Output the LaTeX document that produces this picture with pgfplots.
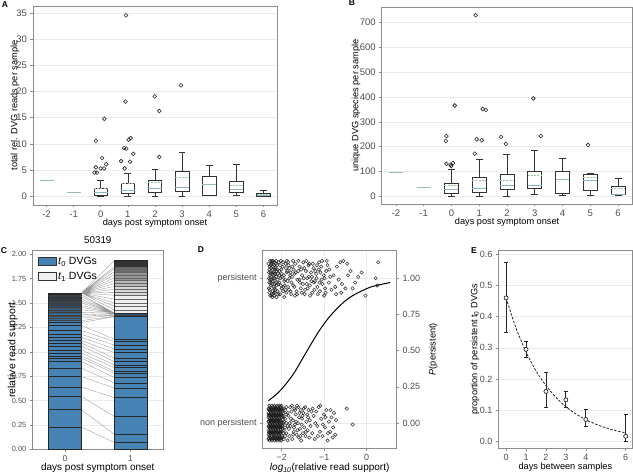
\documentclass[border=0pt]{standalone}
\usepackage{fontspec}
\setmainfont{Liberation Sans}
\usepackage{pgfplots}
\pgfplotsset{compat=1.18}
\usepgfplotslibrary{statistics}
\definecolor{steel}{HTML}{4682B4}
\definecolor{medc}{HTML}{86B4C8}
\definecolor{meanc}{HTML}{A0C49C}
\definecolor{framec}{HTML}{8C8C8C}
\definecolor{gridc}{HTML}{EBEBEB}
\definecolor{tickc}{HTML}{4D4D4D}
\definecolor{ca}{RGB}{62,112,155}
\definecolor{cb}{RGB}{55,92,122}
\definecolor{cc}{RGB}{50,72,90}
\definecolor{cd}{RGB}{46,56,64}
\definecolor{ce}{RGB}{40,40,40}
\definecolor{da}{RGB}{45,85,120}
\definecolor{ga}{RGB}{240,240,240}
\definecolor{gb}{RGB}{215,215,215}
\definecolor{gc}{RGB}{185,185,185}
\definecolor{gd}{RGB}{150,150,150}
\definecolor{ge}{RGB}{105,105,105}
\definecolor{gf}{RGB}{50,50,50}
\pgfplotsset{
 gg/.style={
  scale only axis, anchor=south west,
  axis line style={framec, line width=0.7pt},
  tick align=outside, major tick length=2.5pt,
  tick style={framec, line width=0.6pt},
  xtick pos=left, ytick pos=left,
  ymajorgrids, grid style={gridc, line width=0.6pt},
  /pgf/number format/assume math mode=true,
  tick label style={text=tickc, font=\fontsize{9.5}{10}\selectfont},
  label style={font=\fontsize{9.2}{10}\selectfont},
 },
 meanl/.style={meanc, line width=0.7pt, dash pattern=on 2pt off 1.2pt},
 outl/.style={only marks, mark=o, mark size=1.9pt, black!85, mark options={line width=0.6pt}},
 bx/.style={black!80, line width=0.6pt, boxplot/draw direction=y, boxplot/box extend=0.5, boxplot/whisker extend=0.25},
}
\begin{document}
\begin{tikzpicture}
\path[use as bounding box] (0,0) rectangle (633pt,474pt);
% ---------------- A ----------------
\begin{axis}[gg, at={(33pt,269pt)}, width=244pt, height=199pt,
 xmin=-2.5, xmax=6.5, ymin=-1.7, ymax=36.4,
 xtick={-2,-1,0,1,2,3,4,5,6}, xticklabels={-2,-1,0,1,2,3,4,5,6},
 ytick={0,5,10,15,20,25,30,35},
 xlabel={days post symptom onset}, ylabel={total rel. DVG reads per sample},
 xlabel style={at={(axis description cs:0.5,-0.092)}, anchor=center},
 ylabel style={at={(axis description cs:-0.074,0.5)}, anchor=center},
 boxplot/draw direction=y,
 boxplot/every median/.style={draw=medc, line width=0.8pt}]
\addplot[medc, line width=0.7pt] coordinates {(-2.25,3.0) (-1.75,3.0)};
\addplot[meanl] coordinates {(-2.25,3.0) (-1.75,3.0)};
\addplot[medc, line width=0.7pt] coordinates {(-1.25,0.75) (-0.75,0.75)};
\addplot[meanl] coordinates {(-1.25,0.75) (-0.75,0.75)};
\addplot[bx, boxplot prepared={draw position=0, lower whisker=0.05, lower quartile=0.25, median=0.75, upper quartile=1.5, upper whisker=3.1}] coordinates {};
\addplot[bx, boxplot prepared={draw position=1, lower whisker=0.05, lower quartile=0.6, median=1.0, upper quartile=2.5, upper whisker=4.3}] coordinates {};
\addplot[bx, boxplot prepared={draw position=2, lower whisker=0, lower quartile=0.7, median=1.55, upper quartile=3.05, upper whisker=5.2}] coordinates {};
\addplot[bx, boxplot prepared={draw position=3, lower whisker=0.05, lower quartile=0.9, median=1.7, upper quartile=4.8, upper whisker=8.3}] coordinates {};
\addplot[bx, boxplot prepared={draw position=4, lower whisker=0.2, lower quartile=0.25, median=2.2, upper quartile=3.7, upper whisker=5.9}] coordinates {};
\addplot[bx, boxplot prepared={draw position=5, lower whisker=0.2, lower quartile=0.8, median=1.33, upper quartile=2.9, upper whisker=6.0}] coordinates {};
\addplot[bx, boxplot prepared={draw position=6, lower whisker=0, lower quartile=0.02, median=0.1, upper quartile=0.63, upper whisker=1.07}] coordinates {};
\addplot[meanl] coordinates {(-0.25,1.55) (0.25,1.55)};
\addplot[meanl] coordinates {(0.75,2.45) (1.25,2.45)};
\addplot[meanl] coordinates {(1.75,2.7) (2.25,2.7)};
\addplot[meanl] coordinates {(2.75,3.5) (3.25,3.5)};
\addplot[meanl] coordinates {(3.75,2.25) (4.25,2.25)};
\addplot[meanl] coordinates {(4.75,2.15) (5.25,2.15)};
\addplot[meanl] coordinates {(5.75,0.37) (6.25,0.37)};
\addplot[outl] coordinates {(-0.18,10.6) (0.13,14.8) (0.05,7.3) (0.2,6.1) (-0.18,5.5) (0.0,5.3) (0.12,5.3) (-0.23,4.5) (-0.14,4.5)
 (0.93,34.6) (0.91,18.1) (0.86,9.2) (0.94,9.1) (1.03,10.8) (1.1,11.1) (1.2,8.1) (0.75,6.7) (1.08,6.6) (0.88,5.3)
 (1.99,19.1) (2.16,16.3) (2.16,7.5) (2.96,21.2)};
\end{axis}
% ---------------- B ----------------
\begin{axis}[gg, at={(381.7pt,270pt)}, width=250.8pt, height=196.7pt,
 xmin=-2.51, xmax=6.52, ymin=-31, ymax=762,
 xtick={-2,-1,0,1,2,3,4,5,6}, xticklabels={-2,-1,0,1,2,3,4,5,6},
 ytick={0,100,200,300,400,500,600,700},
 xlabel={days post symptom onset}, ylabel={unique DVG species per sample},
 xlabel style={at={(axis description cs:0.5,-0.094)}, anchor=center},
 ylabel style={at={(axis description cs:-0.102,0.5)}, anchor=center},
 boxplot/draw direction=y,
 boxplot/every median/.style={draw=medc, line width=0.8pt}]
\addplot[medc, line width=0.7pt] coordinates {(-2.25,95) (-1.75,95)};
\addplot[meanl] coordinates {(-2.25,95) (-1.75,95)};
\addplot[medc, line width=0.7pt] coordinates {(-1.25,35) (-0.75,35)};
\addplot[meanl] coordinates {(-1.25,35) (-0.75,35)};
\addplot[bx, boxplot prepared={draw position=0, lower whisker=1, lower quartile=12, median=26, upper quartile=52, upper whisker=109}] coordinates {};
\addplot[bx, boxplot prepared={draw position=1, lower whisker=1, lower quartile=15, median=31, upper quartile=75, upper whisker=149}] coordinates {};
\addplot[bx, boxplot prepared={draw position=2, lower whisker=0, lower quartile=30, median=44, upper quartile=87, upper whisker=171}] coordinates {};
\addplot[bx, boxplot prepared={draw position=3, lower whisker=8, lower quartile=32, median=44, upper quartile=99, upper whisker=185}] coordinates {};
\addplot[bx, boxplot prepared={draw position=4, lower whisker=5, lower quartile=13, median=69, upper quartile=99, upper whisker=152}] coordinates {};
\addplot[bx, boxplot prepared={draw position=5, lower whisker=5, lower quartile=23, median=65, upper quartile=89, upper whisker=93}] coordinates {};
\addplot[bx, boxplot prepared={draw position=6, lower whisker=5, lower quartile=7, median=9, upper quartile=39, upper whisker=71}] coordinates {};
\addplot[meanl] coordinates {(-0.25,44) (0.25,44)};
\addplot[meanl] coordinates {(0.75,65) (1.25,65)};
\addplot[meanl] coordinates {(1.75,66) (2.25,66)};
\addplot[meanl] coordinates {(2.75,83) (3.25,83)};
\addplot[meanl] coordinates {(3.75,68) (4.25,68)};
\addplot[meanl] coordinates {(4.75,75) (5.25,75)};
\addplot[meanl] coordinates {(5.75,31) (6.25,31)};
\addplot[outl] coordinates {(0.12,366) (-0.18,243) (-0.2,223) (-0.18,131) (-0.03,127) (0.06,134) (-0.01,122)
 (0.87,730) (1.13,352) (1.24,348) (0.91,230) (1.09,226) (0.84,172)
 (1.79,239) (1.96,211) (2.95,395) (3.22,243) (4.92,207)};
\end{axis}
% ---------------- C ----------------
\begin{axis}[gg, at={(32.3pt,24.7pt)}, width=131pt, height=198.6pt,
 xmin=-0.5, xmax=1.5, ymin=0, ymax=2.037,
 xtick={0,1}, ytick={0,0.25,0.5,0.75,1,1.25,1.5,1.75,2},
 yticklabels={0.00,0.25,0.50,0.75,1.00,1.25,1.50,1.75,2.00},
 tick label style={font=\fontsize{7.4}{8}\selectfont},
 xticklabel style={font=\fontsize{8.5}{9}\selectfont},
 xlabel={days post symptom onset}, ylabel={relative read support},
 xlabel style={font=\fontsize{10}{11}\selectfont, at={(axis description cs:0.5,-0.096)}, anchor=center},
 ylabel style={font=\fontsize{10.5}{11}\selectfont, at={(axis description cs:-0.15,0.5)}, anchor=center},
 title={50319}, title style={font=\fontsize{9.8}{10}\selectfont, at={(axis description cs:0.5,1)}, anchor=south, inner sep=1pt},
 legend image code/.code={\draw[#1] (0pt,-3.5pt) rectangle (18pt,4pt);},
 legend style={draw=none, fill=none, at={(axis description cs:0.04,0.978)}, anchor=north west, font=\fontsize{10.5}{11}\selectfont, row sep=2pt, inner sep=0pt},
 legend cell align=left]
\addlegendimage{fill=steel, draw=black!80}
\addlegendentry{\textit{t}\textsubscript{0} DVGs}
\addlegendimage{fill=ga, draw=black!80}
\addlegendentry{\textit{t}\textsubscript{1} DVGs}
% bar 0 fills
\addplot[fill=steel, draw=none, forget plot] coordinates {(-0.25,0) (0.25,0) (0.25,1.33) (-0.25,1.33)} -- cycle;
\addplot[fill=ca, draw=none, forget plot] coordinates {(-0.25,1.33) (0.25,1.33) (0.25,1.39) (-0.25,1.39)} -- cycle;
\addplot[fill=cb, draw=none, forget plot] coordinates {(-0.25,1.39) (0.25,1.39) (0.25,1.45) (-0.25,1.45)} -- cycle;
\addplot[fill=cc, draw=none, forget plot] coordinates {(-0.25,1.45) (0.25,1.45) (0.25,1.51) (-0.25,1.51)} -- cycle;
\addplot[fill=cd, draw=none, forget plot] coordinates {(-0.25,1.51) (0.25,1.51) (0.25,1.566) (-0.25,1.566)} -- cycle;
\addplot[fill=ce, draw=none, forget plot] coordinates {(-0.25,1.566) (0.25,1.566) (0.25,1.603) (-0.25,1.603)} -- cycle;
% bar 1 fills
\addplot[fill=steel, draw=none, forget plot] coordinates {(0.75,0) (1.25,0) (1.25,1.36) (0.75,1.36)} -- cycle;
\addplot[fill=da, draw=none, forget plot] coordinates {(0.75,1.36) (1.25,1.36) (1.25,1.40) (0.75,1.40)} -- cycle;
\addplot[fill=ga, draw=none, forget plot] coordinates {(0.75,1.40) (1.25,1.40) (1.25,1.58) (0.75,1.58)} -- cycle;
\addplot[fill=gb, draw=none, forget plot] coordinates {(0.75,1.58) (1.25,1.58) (1.25,1.66) (0.75,1.66)} -- cycle;
\addplot[fill=gc, draw=none, forget plot] coordinates {(0.75,1.66) (1.25,1.66) (1.25,1.74) (0.75,1.74)} -- cycle;
\addplot[fill=gd, draw=none, forget plot] coordinates {(0.75,1.74) (1.25,1.74) (1.25,1.81) (0.75,1.81)} -- cycle;
\addplot[fill=ge, draw=none, forget plot] coordinates {(0.75,1.81) (1.25,1.81) (1.25,1.87) (0.75,1.87)} -- cycle;
\addplot[fill=gf, draw=none, forget plot] coordinates {(0.75,1.87) (1.25,1.87) (1.25,1.934) (0.75,1.934)} -- cycle;
% segment boundaries (lower, well-separated)
\addplot[black!85, line width=0.45pt, unbounded coords=jump, forget plot] coordinates {
(-0.25,0.229) (0.25,0.229) (0,nan) (-0.25,0.406) (0.25,0.406) (0,nan) (-0.25,0.542) (0.25,0.542) (0,nan)
(-0.25,0.639) (0.25,0.639) (0,nan) (-0.25,0.747) (0.25,0.747) (0,nan) (-0.25,0.833) (0.25,0.833) (0,nan)
(-0.25,0.90) (0.25,0.90) (0,nan) (-0.25,0.935) (0.25,0.935) (0,nan) (-0.25,0.959) (0.25,0.959) (0,nan)
(-0.25,0.986) (0.25,0.986) (0,nan) (-0.25,1.02) (0.25,1.02) (0,nan) (-0.25,1.06) (0.25,1.06) (0,nan)
(-0.25,1.09) (0.25,1.09) (0,nan) (-0.25,1.115) (0.25,1.115) (0,nan) (-0.25,1.15) (0.25,1.15) (0,nan)
(-0.25,1.18) (0.25,1.18) (0,nan) (-0.25,1.22) (0.25,1.22) (0,nan) (-0.25,1.27) (0.25,1.27) (0,nan)
(-0.25,1.30) (0.25,1.30) (0,nan)
(0.75,0.07) (1.25,0.07) (1,nan) (0.75,0.155) (1.25,0.155) (1,nan) (0.75,0.338) (1.25,0.338) (1,nan)
(0.75,0.53) (1.25,0.53) (1,nan) (0.75,0.628) (1.25,0.628) (1,nan) (0.75,0.68) (1.25,0.68) (1,nan)
(0.75,0.737) (1.25,0.737) (1,nan) (0.75,0.78) (1.25,0.78) (1,nan) (0.75,0.80) (1.25,0.80) (1,nan)
(0.75,0.839) (1.25,0.839) (1,nan) (0.75,0.867) (1.25,0.867) (1,nan) (0.75,0.90) (1.25,0.90) (1,nan)
(0.75,0.935) (1.25,0.935) (1,nan) (0.75,0.993) (1.25,0.993) (1,nan) (0.75,1.03) (1.25,1.03) (1,nan)
(0.75,1.07) (1.25,1.07) (1,nan) (0.75,1.105) (1.25,1.105) (1,nan) (0.75,1.13) (1.25,1.13) (1,nan)
(0.75,1.36) (1.25,1.36) (1,nan) (0.75,1.40) (1.25,1.40)};
% segment boundaries (upper, dense, thinner)
\addplot[black!75, line width=0.3pt, unbounded coords=jump, forget plot] coordinates {
(-0.25,1.32) (0.25,1.32) (0,nan) (-0.25,1.345) (0.25,1.345) (0,nan) (-0.25,1.365) (0.25,1.365) (0,nan)
(-0.25,1.38) (0.25,1.38) (0,nan) (-0.25,1.405) (0.25,1.405) (0,nan) (-0.25,1.43) (0.25,1.43) (0,nan)
(-0.25,1.455) (0.25,1.455) (0,nan) (-0.25,1.475) (0.25,1.475) (0,nan) (-0.25,1.50) (0.25,1.50) (0,nan)
(-0.25,1.52) (0.25,1.52) (0,nan) (-0.25,1.54) (0.25,1.54) (0,nan) (-0.25,1.566) (0.25,1.566) (0,nan)
(-0.25,1.585) (0.25,1.585) (0,nan)
(0.75,1.38) (1.25,1.38) (1,nan)};
\addplot[black!60, line width=0.3pt, unbounded coords=jump, forget plot] coordinates {
(0.75,1.43) (1.25,1.43) (1,nan) (0.75,1.47) (1.25,1.47) (1,nan) (0.75,1.50) (1.25,1.50) (1,nan)
(0.75,1.54) (1.25,1.54) (1,nan) (0.75,1.58) (1.25,1.58) (1,nan) (0.75,1.61) (1.25,1.61) (1,nan)
(0.75,1.64) (1.25,1.64) (1,nan) (0.75,1.67) (1.25,1.67) (1,nan) (0.75,1.70) (1.25,1.70) (1,nan)
(0.75,1.73) (1.25,1.73) (1,nan) (0.75,1.76) (1.25,1.76) (1,nan) (0.75,1.79) (1.25,1.79) (1,nan)
(0.75,1.82) (1.25,1.82) (1,nan) (0.75,1.85) (1.25,1.85) (1,nan) (0.75,1.87) (1.25,1.87)};
% bar outlines
\addplot[black!85, line width=0.55pt, forget plot] coordinates {(-0.25,0) (0.25,0) (0.25,1.603) (-0.25,1.603)} -- cycle;
\addplot[black!85, line width=0.55pt, forget plot] coordinates {(0.75,0) (1.25,0) (1.25,1.934) (0.75,1.934)} -- cycle;
% connecting lines
\addplot[black!40, line width=0.35pt, unbounded coords=jump, forget plot] coordinates {
(0.25,0.229) (0.75,0.07) (0.5,nan) (0.25,0.406) (0.75,0.155) (0.5,nan) (0.25,0.542) (0.75,0.338) (0.5,nan)
(0.25,0.639) (0.75,0.53) (0.5,nan) (0.25,0.747) (0.75,0.628) (0.5,nan) (0.25,0.833) (0.75,0.68) (0.5,nan)
(0.25,0.90) (0.75,0.737) (0.5,nan) (0.25,0.935) (0.75,0.78) (0.5,nan) (0.25,0.959) (0.75,0.80) (0.5,nan)
(0.25,0.986) (0.75,0.839) (0.5,nan) (0.25,1.02) (0.75,0.867) (0.5,nan) (0.25,1.06) (0.75,0.90) (0.5,nan)
(0.25,1.09) (0.75,0.935) (0.5,nan) (0.25,1.115) (0.75,0.993) (0.5,nan) (0.25,1.15) (0.75,1.03) (0.5,nan)
(0.25,1.18) (0.75,1.07) (0.5,nan) (0.25,1.22) (0.75,1.105) (0.5,nan) (0.25,1.27) (0.75,1.13) (0.5,nan)
(0.25,1.30) (0.75,1.36) (0.5,nan) (0.25,1.32) (0.75,1.365) (0.5,nan) (0.25,1.345) (0.75,1.375) (0.5,nan)
(0.25,1.365) (0.75,1.38) (0.5,nan) (0.25,1.38) (0.75,1.39) (0.5,nan) (0.25,1.405) (0.75,1.395) (0.5,nan)
(0.25,1.43) (0.75,1.40) (0.5,nan) (0.25,1.455) (0.75,1.40) (0.5,nan) (0.25,1.475) (0.75,1.40) (0.5,nan)
(0.25,1.50) (0.75,1.40) (0.5,nan) (0.25,1.52) (0.75,1.40) (0.5,nan) (0.25,1.54) (0.75,1.40) (0.5,nan)
(0.25,1.566) (0.75,1.40) (0.5,nan) (0.25,1.585) (0.75,1.40) (0.5,nan)
(0.25,1.603) (0.75,1.43) (0.5,nan) (0.25,1.603) (0.75,1.47) (0.5,nan) (0.25,1.603) (0.75,1.50) (0.5,nan)
(0.25,1.603) (0.75,1.54) (0.5,nan) (0.25,1.603) (0.75,1.58) (0.5,nan) (0.25,1.603) (0.75,1.61) (0.5,nan)
(0.25,1.603) (0.75,1.64) (0.5,nan) (0.25,1.603) (0.75,1.67) (0.5,nan) (0.25,1.603) (0.75,1.70) (0.5,nan)
(0.25,1.603) (0.75,1.73) (0.5,nan) (0.25,1.603) (0.75,1.76) (0.5,nan) (0.25,1.603) (0.75,1.79) (0.5,nan)
(0.25,1.603) (0.75,1.82) (0.5,nan) (0.25,1.603) (0.75,1.85) (0.5,nan) (0.25,1.603) (0.75,1.87) (0.5,nan)
(0.25,1.603) (0.75,1.934)};
\end{axis}
% ---------------- D ----------------
\begin{axis}[gg, at={(262.7pt,25.7pt)}, width=134pt, height=198.3pt,
 xmin=-2.447, xmax=0.706, ymin=-0.174, ymax=1.195,
 xtick={-2,-1,0}, xticklabels={−2,−1,0}, xmajorgrids,
 ytick={0,1}, yticklabels={non persistent,persistent},
 tick label style={font=\fontsize{9}{10}\selectfont},
 xlabel={\textit{log\textsubscript{10}}(relative read support)},
 xlabel style={font=\fontsize{10}{11}\selectfont, at={(axis description cs:0.5,-0.101)}, anchor=center}]
\addplot[only marks, mark=o, mark size=1.7pt, black!90, opacity=0.85, mark options={line width=0.55pt}] coordinates {
(-2.28,1.08) (-2.25,0.95) (-2.22,1.11) (-2.19,0.90) (-2.27,1.02) (-2.21,0.98) (-2.16,1.06) (-2.30,0.93) (-2.24,1.10) (-2.18,0.88)
(-2.13,1.01) (-2.26,0.97) (-2.20,1.04) (-2.15,0.92) (-2.29,1.06) (-2.11,1.09) (-2.23,0.89) (-2.17,1.00) (-2.08,0.96) (-2.27,1.12)
(-2.14,1.07) (-2.10,0.91) (-2.22,1.03) (-2.05,1.05) (-2.19,0.94) (-2.28,0.99) (-2.12,0.87) (-2.03,1.00) (-2.25,1.07) (-2.07,1.11)
(-2.16,0.96) (-2.00,0.93) (-2.21,0.91) (-2.09,1.03) (-1.98,1.08) (-2.30,1.00) (-2.13,1.12) (-2.04,0.89) (-1.95,1.02) (-2.18,1.09)
(-2.06,0.97) (-1.93,0.95) (-2.24,0.88) (-2.01,1.06) (-1.91,1.10) (-2.15,1.03) (-1.97,0.91) (-1.88,1.04) (-2.10,0.99) (-1.94,0.87)
(-1.86,0.98) (-2.02,1.12) (-1.90,1.07) (-1.83,0.92) (-1.99,1.01) (-1.85,1.11) (-1.80,1.02) (-1.96,0.94) (-1.78,0.89) (-1.87,1.05)
(-1.75,1.08) (-1.92,0.99) (-1.73,0.95) (-1.82,1.00) (-1.70,1.03) (-1.89,0.90) (-1.68,1.10) (-1.77,0.97) (-1.65,0.91) (-1.72,1.06)
(-1.63,0.99) (-1.84,1.09) (-1.61,1.05) (-1.69,0.88) (-1.79,1.04) (-2.29,0.90) (-2.26,1.04) (-2.23,0.96) (-2.20,1.08) (-2.17,0.93)
(-2.31,1.10) (-2.29,0.97) (-2.27,0.88) (-2.25,1.01) (-2.23,1.12) (-2.21,1.06) (-2.19,1.00) (-2.17,1.11) (-2.14,0.97) (-2.12,1.05)
(-2.30,1.04) (-2.28,0.92) (-2.26,1.09) (-2.24,0.99) (-2.22,0.87) (-2.20,1.12) (-2.18,1.03) (-2.16,0.90) (-2.14,1.10) (-2.12,0.95)
(-2.10,1.06) (-2.08,0.89) (-2.06,1.02) (-2.04,1.09) (-2.02,0.95) (-2.00,1.03) (-1.97,1.11) (-1.94,0.98) (-1.91,0.92) (-1.88,1.12)
(-1.85,0.94) (-1.82,1.07) (-1.79,0.91) (-1.76,1.01) (-1.73,1.12) (-1.70,0.94) (-1.67,1.04) (-1.64,0.89) (-1.61,1.12) (-1.58,0.99)
(-1.53,0.90) (-1.47,1.07) (-1.41,0.96) (-1.35,1.10) (-1.29,1.01) (-1.23,0.92) (-1.17,1.09) (-1.11,0.97) (-1.05,1.12) (-0.99,1.00)
(-1.58,1.08) (-1.55,0.93) (-1.52,1.02) (-1.49,1.11) (-1.57,0.97) (-1.46,0.89) (-1.43,1.05) (-1.50,0.96) (-1.40,1.00) (-1.37,1.09)
(-1.45,0.92) (-1.34,0.95) (-1.31,1.04) (-1.42,1.12) (-1.28,0.90) (-1.36,1.01) (-1.25,1.07) (-1.22,0.98) (-1.33,0.88) (-1.19,1.03)
(-1.27,1.10) (-1.16,0.94) (-1.13,1.06) (-1.24,0.97) (-1.10,0.91) (-1.18,1.00) (-1.07,1.08) (-1.04,0.96) (-1.12,1.11) (-1.01,1.02)
(-0.98,0.93) (-1.06,0.99) (-0.95,1.05) (-0.92,1.09) (-1.00,0.88) (-0.89,0.97) (-0.86,1.01) (-0.94,1.12) (-0.83,0.92) (-1.21,1.05)
(-1.39,0.93) (-1.54,1.06) (-1.48,1.00) (-1.30,0.98) (-1.09,1.04) (-0.97,0.90) (-1.15,0.89) (-0.88,1.06)
(-0.78,1.02) (-0.74,0.94) (-0.70,1.08) (-0.66,0.99) (-0.62,1.11) (-0.58,0.96) (-0.55,1.12) (-0.50,0.93) (-0.46,1.10) (-0.44,1.02)
(-0.38,1.05) (-0.33,0.93) (-0.27,0.97) (-0.20,1.01) (-0.12,1.04) (-0.03,0.88) (0.21,1.00) (0.25,0.95) (0.27,1.11) (-0.60,0.90) (-0.72,0.89)
(-2.31,-0.11) (-2.31,-0.08) (-2.31,-0.05) (-2.31,-0.02) (-2.31,0.01) (-2.31,0.04) (-2.31,0.07) (-2.31,0.10)
(-2.29,-0.12) (-2.29,-0.09) (-2.29,-0.06) (-2.29,-0.03) (-2.29,0.00) (-2.29,0.03) (-2.29,0.06) (-2.29,0.09) (-2.29,0.12)
(-2.27,-0.10) (-2.27,-0.07) (-2.27,-0.04) (-2.27,-0.01) (-2.27,0.02) (-2.27,0.05) (-2.27,0.08) (-2.27,0.11)
(-2.25,-0.11) (-2.25,-0.08) (-2.25,-0.05) (-2.25,-0.02) (-2.25,0.01) (-2.25,0.04) (-2.25,0.07) (-2.25,0.10)
(-2.23,-0.12) (-2.23,-0.09) (-2.23,-0.06) (-2.23,-0.03) (-2.23,0.00) (-2.23,0.03) (-2.23,0.06) (-2.23,0.09) (-2.23,0.12)
(-2.21,-0.10) (-2.21,-0.07) (-2.21,-0.04) (-2.21,-0.01) (-2.21,0.02) (-2.21,0.05) (-2.21,0.08) (-2.21,0.11)
(-2.19,-0.11) (-2.19,-0.08) (-2.19,-0.05) (-2.19,-0.02) (-2.19,0.01) (-2.19,0.04) (-2.19,0.07) (-2.19,0.10)
(-2.17,-0.12) (-2.17,-0.09) (-2.17,-0.06) (-2.17,-0.03) (-2.17,0.00) (-2.17,0.03) (-2.17,0.06) (-2.17,0.09) (-2.17,0.12)
(-2.15,-0.10) (-2.15,-0.07) (-2.15,-0.04) (-2.15,-0.01) (-2.15,0.02) (-2.15,0.05) (-2.15,0.08) (-2.15,0.11)
(-2.13,-0.11) (-2.13,-0.08) (-2.13,-0.05) (-2.13,-0.02) (-2.13,0.01) (-2.13,0.04) (-2.13,0.07) (-2.13,0.10)
(-2.11,-0.12) (-2.11,-0.09) (-2.11,-0.06) (-2.11,-0.03) (-2.11,0.00) (-2.11,0.03) (-2.11,0.06) (-2.11,0.09) (-2.11,0.12)
(-2.09,-0.10) (-2.09,-0.07) (-2.09,-0.04) (-2.09,-0.01) (-2.09,0.02) (-2.09,0.05) (-2.09,0.08) (-2.09,0.11)
(-2.07,-0.11) (-2.07,-0.08) (-2.07,-0.05) (-2.07,-0.02) (-2.07,0.01) (-2.07,0.04) (-2.07,0.07) (-2.07,0.10)
(-2.05,-0.12) (-2.05,-0.09) (-2.05,-0.06) (-2.05,-0.03) (-2.05,0.00) (-2.05,0.03) (-2.05,0.06) (-2.05,0.09) (-2.05,0.12)
(-2.03,-0.10) (-2.03,-0.07) (-2.03,-0.04) (-2.03,-0.01) (-2.03,0.02) (-2.03,0.05) (-2.03,0.08) (-2.03,0.11)
(-2.30,-0.105) (-2.30,-0.065) (-2.30,-0.025) (-2.30,0.015) (-2.30,0.055) (-2.30,0.095)
(-2.26,-0.105) (-2.26,-0.065) (-2.26,-0.025) (-2.26,0.015) (-2.26,0.055) (-2.26,0.095)
(-2.22,-0.105) (-2.22,-0.065) (-2.22,-0.025) (-2.22,0.015) (-2.22,0.055) (-2.22,0.095)
(-2.18,-0.105) (-2.18,-0.065) (-2.18,-0.025) (-2.18,0.015) (-2.18,0.055) (-2.18,0.095)
(-2.14,-0.105) (-2.14,-0.065) (-2.14,-0.025) (-2.14,0.015) (-2.14,0.055) (-2.14,0.095)
(-2.10,-0.105) (-2.10,-0.065) (-2.10,-0.025) (-2.10,0.015) (-2.10,0.055) (-2.10,0.095)
(-2.06,-0.105) (-2.06,-0.065) (-2.06,-0.025) (-2.06,0.015) (-2.06,0.055) (-2.06,0.095)
(-2.02,-0.105) (-2.02,-0.065) (-2.02,-0.025) (-2.02,0.015) (-2.02,0.055) (-2.02,0.095)
(-2.01,-0.12) (-2.01,-0.06) (-2.01,-0.03) (-2.01,0.00) (-2.01,0.06) (-2.01,0.09) (-2.01,0.12)
(-1.99,-0.09) (-1.99,-0.02) (-1.99,0.04) (-1.99,0.10)
(-1.98,-0.10) (-1.98,-0.04) (-1.98,-0.01) (-1.98,0.05) (-1.98,0.08)
(-1.96,-0.07) (-1.96,0.00) (-1.96,0.07)
(-1.95,-0.11) (-1.95,-0.05) (-1.95,0.01) (-1.95,0.04) (-1.95,0.10)
(-1.92,-0.09) (-1.92,-0.03) (-1.92,0.03) (-1.92,0.09) (-1.89,-0.07) (-1.89,0.00) (-1.89,0.06) (-1.89,0.11) (-1.86,-0.12) (-1.86,-0.02) (-1.86,0.07)
(-1.84,0.05) (-1.82,-0.09) (-1.80,0.11) (-1.79,-0.02) (-1.77,0.08) (-1.75,-0.11) (-1.74,0.02) (-1.72,-0.06) (-1.70,0.10) (-1.69,-0.01)
(-1.67,0.06) (-1.65,-0.08) (-1.64,0.12) (-1.62,0.00) (-1.60,-0.10) (-1.59,0.04) (-1.57,-0.04) (-1.55,0.09) (-1.54,-0.12) (-1.52,0.03)
(-1.50,-0.07) (-1.49,0.07) (-1.47,-0.03) (-1.45,0.11) (-1.44,-0.09) (-1.42,0.01) (-1.40,0.06) (-1.39,-0.05) (-1.37,0.09) (-1.35,-0.10)
(-1.34,0.02) (-1.32,-0.02) (-1.30,0.08) (-1.83,-0.04) (-1.78,0.03) (-1.73,-0.08) (-1.68,0.09) (-1.63,-0.05) (-1.58,0.07) (-1.53,-0.01)
(-1.48,0.10) (-1.43,-0.06) (-1.38,0.04) (-1.81,0.00) (-1.76,0.12) (-1.71,-0.03) (-1.66,0.01) (-1.61,0.11) (-1.56,-0.09) (-1.51,0.05)
(-1.28,-0.07) (-1.25,0.05) (-1.22,-0.11) (-1.19,0.08) (-1.16,-0.02) (-1.13,0.11) (-1.10,-0.06) (-1.07,0.03) (-1.04,-0.09) (-1.01,0.06)
(-0.98,-0.03) (-0.95,0.09) (-0.92,-0.12) (-0.89,0.01) (-0.86,-0.06) (-0.83,0.04) (-0.80,-0.10) (-0.77,0.07) (-0.74,-0.08) (-1.27,0.10)
(-1.21,0.00) (-1.15,-0.09) (-1.09,0.12) (-1.03,-0.01) (-0.97,0.04) (-0.91,-0.07) (-0.85,0.09) (-0.79,-0.03)
(-0.47,0.10) (-0.33,-0.01) (-0.72,0.02)};
\addplot[black, line width=1pt, smooth] coordinates {(-2.31,0.155) (-2.1,0.205) (-1.9,0.27) (-1.7,0.35) (-1.5,0.45) (-1.3,0.55) (-1.1,0.645) (-0.9,0.725) (-0.7,0.79) (-0.5,0.845) (-0.3,0.885) (-0.1,0.915) (0.1,0.94) (0.3,0.955) (0.55,0.97)};
\end{axis}
\begin{axis}[scale only axis, anchor=south west, at={(262.7pt,25.7pt)}, width=134pt, height=198.3pt,
 xmin=-2.447, xmax=0.706, ymin=-0.174, ymax=1.195,
 axis x line=none, axis y line*=right, axis line style={framec, line width=0.7pt},
 tick align=outside, major tick length=2.5pt, tick style={framec, line width=0.6pt},
 ytick={0,0.25,0.5,0.75,1}, yticklabels={0.00,0.25,0.50,0.75,1.00},
 tick label style={text=tickc, font=\fontsize{9}{10}\selectfont},
 ylabel={\textit{P}(persistent)},
 every axis y label/.style={at={(axis description cs:1.273,0.5)}, rotate=90, anchor=center, font=\fontsize{9.2}{10}\selectfont}]
\end{axis}
% ---------------- E ----------------
\begin{axis}[gg, at={(498.3pt,25.7pt)}, width=134.2pt, height=198.3pt,
 xmin=-0.39, xmax=6.34, ymin=-0.0225, ymax=0.614,
 xtick={0,1,2,3,4,6}, ytick={0,0.1,0.2,0.3,0.4,0.5,0.6},
 yticklabels={0.0,0.1,0.2,0.3,0.4,0.5,0.6},
 tick label style={font=\fontsize{9}{10}\selectfont},
 xlabel={days between samples}, ylabel={proportion of persistent t\textsubscript{0} DVGs},
 xlabel style={at={(axis description cs:0.5,-0.093)}, anchor=center},
 ylabel style={at={(axis description cs:-0.174,0.5)}, anchor=center}]
\addplot[black!85, mark=none, only marks, error bars/.cd, y dir=both, y explicit,
 error bar style={line width=0.9pt, black!85}, error mark options={rotate=90, mark size=2.2pt, line width=0.9pt, black!85}]
 coordinates {(0,0.46) += (0,0.115) -= (0,0.11) (1,0.295) += (0,0.025) -= (0,0.025) (2,0.16) += (0,0.06) -= (0,0.05)
 (3,0.133) += (0,0.027) -= (0,0.023) (4,0.07) += (0,0.033) -= (0,0.023) (6,0.016) += (0,0.071) -= (0,0.016)};
\addplot[black!85, line width=0.8pt, dash pattern=on 2.5pt off 1.5pt, smooth] coordinates {(0,0.46) (0.5,0.363) (1,0.287) (1.5,0.226) (2,0.179) (2.5,0.141) (3,0.111) (3.5,0.0878) (4,0.0694) (4.5,0.0548) (5,0.0433) (5.5,0.0342) (6,0.027)};
\addplot[only marks, mark=*, mark size=2pt, mark options={fill=white, draw=black!85, line width=0.6pt}] coordinates {(0,0.46) (1,0.295) (2,0.16) (3,0.133) (4,0.07) (6,0.016)};
\end{axis}
% panel letters
\node[font=\bfseries\fontsize{8.5}{9}\selectfont, inner sep=0pt] at (5pt,469pt) {A};
\node[font=\bfseries\fontsize{8.5}{9}\selectfont, inner sep=0pt] at (352pt,471pt) {B};
\node[font=\bfseries\fontsize{8.5}{9}\selectfont, inner sep=0pt] at (4pt,223pt) {C};
\node[font=\bfseries\fontsize{8.5}{9}\selectfont, inner sep=0pt] at (201pt,224pt) {D};
\node[font=\bfseries\fontsize{8.5}{9}\selectfont, inner sep=0pt] at (474pt,223pt) {E};
\end{tikzpicture}
\end{document}
